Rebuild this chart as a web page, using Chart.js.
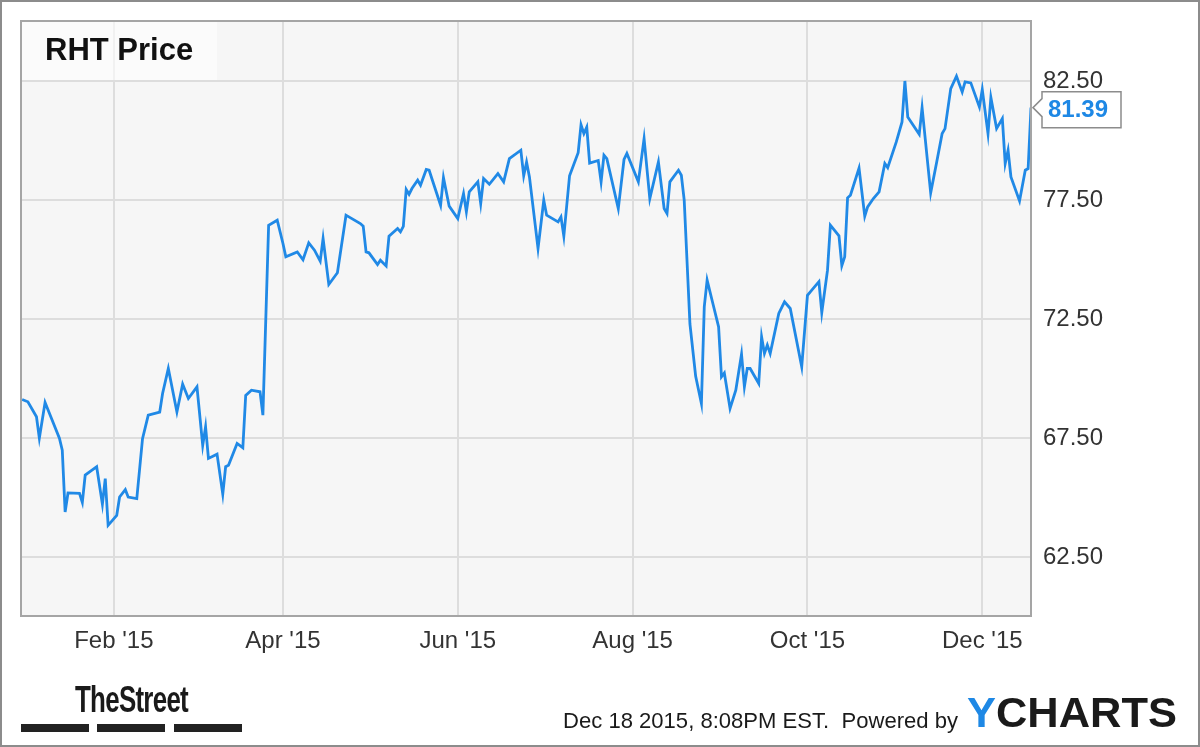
<!DOCTYPE html>
<html>
<head>
<meta charset="utf-8">
<title>RHT Price</title>
<script src="https://cdn.jsdelivr.net/npm/chart.js@4.4.1/dist/chart.umd.min.js"></script>
<style>
    body { margin: 0; background: #fff; }
    #wrap { position: relative; width: 1200px; height: 747px; font-family: Arial, "Liberation Sans", sans-serif; }
    #chart { position: absolute; left: 0; top: 0; }
    #title {
        position: absolute; left: 22px; top: 22px; width: 195px; height: 58px;
        background: rgba(255, 255, 255, 0.6); box-sizing: border-box; padding-left: 23px;
        font-weight: bold; font-size: 31px; line-height: 56px; color: #111;
    }
    .fit { position: absolute; white-space: nowrap; transform-origin: 0 0; }
    #street { left: 75px; top: 682px; font-size: 36px; line-height: 36px; font-weight: bold; color: #1a1a1a; letter-spacing: -1px; }
    .bar { position: absolute; top: 724px; height: 8px; background: #222; }
    #stamp { left: 563px; top: 709px; font-size: 22px; line-height: 24px; color: #1a1a1a; }
    #brand { left: 967px; top: 691px; font-size: 42px; line-height: 44px; font-weight: bold; color: #1a1a1a; }
    #brand span { color: #1e88e5; }
</style>
</head>
<body>
<div id="wrap">
    <canvas id="chart" width="1200" height="747"></canvas>
    <div id="title">RHT Price</div>
    <div id="street" class="fit" data-w="113">TheStreet</div>
    <div class="bar" style="left:21px;width:68px"></div>
    <div class="bar" style="left:97px;width:68px"></div>
    <div class="bar" style="left:174px;width:68px"></div>
    <div id="stamp" class="fit" data-w="395">Dec 18 2015, 8:08PM EST.&nbsp; Powered by</div>
    <div id="brand" class="fit" data-w="210"><span>Y</span>CHARTS</div>
</div>
<script>
// day of 2015 (Jan 1 = 0) and closing price
const days = [-1, 1, 4, 5, 7, 9, 12, 13, 14, 15, 19, 20, 21, 23, 25, 27, 28, 29, 32, 33,
    35, 36, 39, 41, 43, 47, 48, 50, 53, 55, 57, 60, 62, 63, 64, 67, 69, 70, 71, 74,
    76, 77, 79, 82, 83, 85, 88, 90, 91, 95, 97, 99, 101, 103, 104, 106, 109, 112, 113, 117,
    118, 119, 120, 123, 124, 126, 127, 130, 131, 132, 133, 134, 135, 137, 138, 140, 141, 145, 146, 148,
    151, 153, 154, 155, 158, 159, 160, 162, 165, 167, 169, 173, 174, 175, 176, 179, 181, 182, 186, 187,
    188, 190, 193, 194, 195, 196, 197, 200, 201, 202, 203, 207, 209, 210, 214, 216, 218, 221, 223, 224,
    225, 228, 229, 230, 232, 234, 236, 237, 238, 240, 242, 243, 244, 246, 248, 250, 251, 252, 253, 256,
    257, 258, 259, 260, 263, 265, 267, 271, 273, 274, 277, 278, 280, 281, 284, 285, 286, 287, 288, 291,
    293, 294, 296, 298, 300, 301, 304, 306, 307, 308, 312, 313, 316, 318, 320, 321, 323, 325, 327, 328,
    330, 333, 334, 336, 337, 339, 341, 342, 343, 344, 347, 349, 350, 351]

const prices = [69.13, 69.03, 68.4, 67.5, 69.0, 68.4, 67.5, 67.0, 64.4, 65.2, 65.18, 64.8, 65.95, 66.13, 66.3, 64.73, 65.8, 63.84, 64.26, 65.03,
    65.34, 65.03, 64.96, 67.48, 68.47, 68.6, 69.38, 70.43, 68.6, 69.77, 69.17, 69.66, 67.2, 67.98, 66.65, 66.83, 65.15, 66.3, 66.36, 67.28,
    67.1, 69.3, 69.52, 69.45, 68.47, 76.45, 76.66, 75.68, 75.12, 75.33, 75.0, 75.71, 75.4, 74.94, 75.89, 73.96, 74.45, 76.87, 76.8, 76.52,
    76.41, 75.33, 75.29, 74.8, 74.98, 74.74, 75.99, 76.31, 76.17, 76.4, 77.95, 77.75, 77.99, 78.34, 78.13, 78.79, 78.76, 77.29, 78.45, 77.25,
    76.73, 77.78, 77.01, 77.85, 78.27, 77.36, 78.41, 78.17, 78.62, 78.27, 79.25, 79.6, 78.53, 79.1, 78.48, 75.47, 77.5, 76.87, 76.59, 76.8,
    75.99, 78.53, 79.5, 80.67, 80.3, 80.57, 79.06, 79.17, 78.27, 79.39, 79.25, 77.15, 79.21, 79.46, 78.27, 80.09, 77.57, 79.11, 77.15, 76.94,
    78.27, 78.76, 78.55, 77.5, 72.3, 70.1, 68.96, 73.02, 74.14, 73.16, 72.18, 70.08, 70.24, 68.75, 69.52, 71.03, 69.66, 70.43, 70.43, 69.8,
    71.76, 71.06, 71.41, 71.06, 72.74, 73.23, 72.95, 70.5, 73.5, 73.65, 74.08, 72.78, 74.56, 76.45, 76.0, 74.75, 75.12, 77.6, 77.71, 78.85,
    76.83, 77.22, 77.57, 77.85, 79.04, 78.87, 79.95, 80.79, 82.51, 81.0, 80.27, 81.39, 77.81, 79.04, 80.3, 80.51, 82.19, 82.71, 82.05, 82.47,
    82.43, 81.42, 82.15, 80.3, 81.82, 80.51, 80.93, 79.04, 79.6, 78.48, 77.47, 78.76, 78.83, 81.39]

const tickDays = [31, 90, 151, 212, 273, 334]
const tickLabels = ["Feb '15", "Apr '15", "Jun '15", "Aug '15", "Oct '15", "Dec '15"]
const priceTicks = [62.5, 67.5, 72.5, 77.5, 82.5]

const lineBlue = '#2089e6'
const gridCol = '#dddddd'

// squeeze footer texts to the widths of the original logo strip
document.querySelectorAll('.fit').forEach(el => {
    const w = el.getBoundingClientRect().width
    el.style.transform = `scaleX(${el.dataset.w / w})`
})

const framePlugin = {
    id: 'frame',
    beforeDraw(chart) {
        const { ctx, chartArea: a } = chart
        ctx.save()
        ctx.fillStyle = '#fff'
        ctx.fillRect(0, 0, chart.width, chart.height)
        ctx.fillStyle = '#f6f6f6'
        ctx.fillRect(a.left, a.top, a.right - a.left, a.bottom - a.top)
        ctx.restore()
    },
    afterDraw(chart) {
        const { ctx, chartArea: a } = chart
        ctx.save()
        ctx.lineWidth = 2
        ctx.strokeStyle = '#a5a5a5'
        ctx.strokeRect(a.left, a.top, a.right - a.left, a.bottom - a.top)
        ctx.strokeStyle = '#8c8c8c'
        ctx.strokeRect(1, 1, chart.width - 2, chart.height - 2)

        // flag with the last price, box sits a touch below the tip
        const last = prices[prices.length - 1]
        const y = chart.scales.y.getPixelForValue(last)
        const cy = y + 2
        const tip = a.right + 2, bx = a.right + 11, bw = 79, bh = 36
        ctx.beginPath()
        ctx.moveTo(tip, y)
        ctx.lineTo(bx, y - 9)
        ctx.lineTo(bx, cy - bh / 2)
        ctx.lineTo(bx + bw, cy - bh / 2)
        ctx.lineTo(bx + bw, cy + bh / 2)
        ctx.lineTo(bx, cy + bh / 2)
        ctx.lineTo(bx, y + 9)
        ctx.closePath()
        ctx.fillStyle = '#fff'
        ctx.fill()
        ctx.lineWidth = 1.5
        ctx.strokeStyle = '#8c8c8c'
        ctx.stroke()
        ctx.fillStyle = '#1e88e5'
        ctx.font = 'bold 24px Arial, "Liberation Sans"'
        ctx.textBaseline = 'middle'
        ctx.fillText(last.toFixed(2), bx + 6, cy + 1)
        ctx.restore()
    }
}

const ctx = document.getElementById('chart').getContext('2d')
const rhtChart = new Chart(ctx, {
    type: 'line',
    data: {
        datasets: [{
            data: days.map((d, i) => ({ x: d, y: prices[i] })),
            borderColor: lineBlue,
            borderWidth: 2.8,
            pointRadius: 0,
            tension: 0,
            fill: false
        }]
    },
    options: {
        responsive: false,
        animation: false,
        devicePixelRatio: 1,
        layout: { padding: { left: 21, top: 21, right: 0, bottom: 0 } },
        plugins: {
            legend: { display: false },
            tooltip: { enabled: false }
        },
        scales: {
            x: {
                type: 'linear',
                min: -1.4,
                max: 351,
                afterBuildTicks: axis => { axis.ticks = tickDays.map(v => ({ value: v })) },
                afterFit: axis => { axis.height = 131; axis.paddingLeft = 0; axis.paddingRight = 0 },
                grid: { color: gridCol, lineWidth: 2, drawTicks: false },
                border: { display: false },
                ticks: {
                    padding: 11,
                    autoSkip: false,
                    maxRotation: 0,
                    color: '#333',
                    font: { size: 24, family: 'Arial, "Liberation Sans"' },
                    callback: v => tickLabels[tickDays.indexOf(v)]
                }
            },
            y: {
                position: 'right',
                min: 60.03,
                max: 85.03,
                afterBuildTicks: axis => { axis.ticks = priceTicks.map(v => ({ value: v })) },
                afterFit: axis => { axis.width = 169; axis.paddingTop = 0; axis.paddingBottom = 0 },
                grid: { color: gridCol, lineWidth: 2, drawTicks: false },
                border: { display: false },
                ticks: {
                    padding: 12,
                    color: '#333',
                    font: { size: 24, family: 'Arial, "Liberation Sans"' },
                    callback: v => v.toFixed(2)
                }
            }
        }
    },
    plugins: [framePlugin]
})
</script>
</body>
</html>
